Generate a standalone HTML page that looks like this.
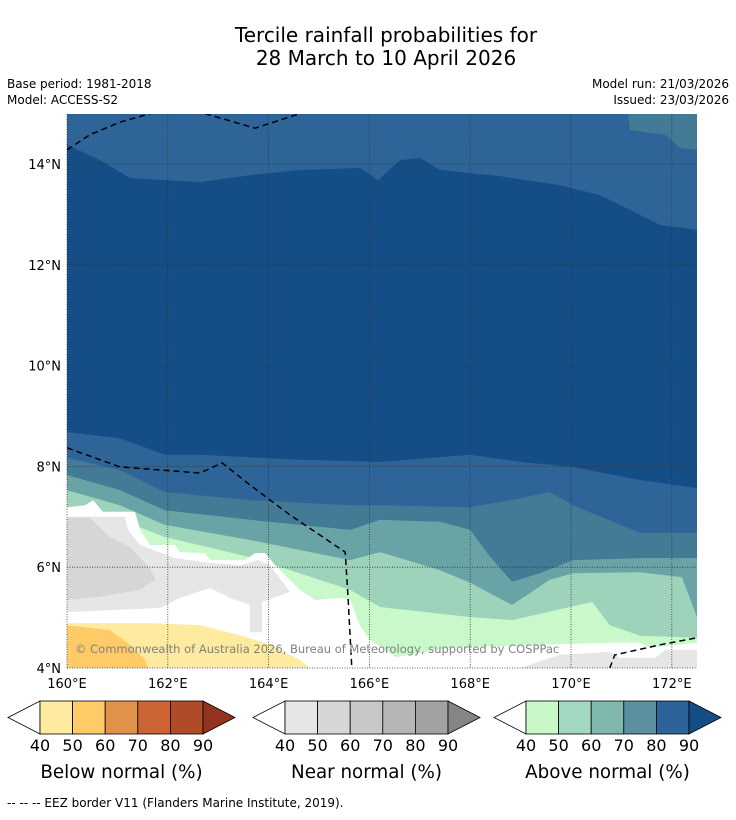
<!DOCTYPE html>
<html><head><meta charset="utf-8"><style>
body{margin:0;background:#fff;width:736px;height:816px;overflow:hidden;font-family:"DejaVu Sans","Liberation Sans",sans-serif;}
</style></head><body>
<svg id="svg" width="736" height="816" xmlns="http://www.w3.org/2000/svg" font-family="DejaVu Sans, Liberation Sans, sans-serif">
<text x="386" y="42" text-anchor="middle" font-size="20">Tercile rainfall probabilities for</text>
<text x="386" y="65" text-anchor="middle" font-size="20">28 March to 10 April 2026</text>
<text x="7" y="88" font-size="12">Base period: 1981-2018</text>
<text x="7" y="104" font-size="12">Model: ACCESS-S2</text>
<text x="729" y="88" font-size="12" text-anchor="end">Model run: 21/03/2026</text>
<text x="729" y="104" font-size="12" text-anchor="end">Issued: 23/03/2026</text>
<defs><clipPath id="mapclip"><rect x="67" y="114" width="630" height="554"/></clipPath></defs>
<g id="map" clip-path="url(#mapclip)"></g>
<g id="axes"></g>
<text x="75" y="653" font-size="11.5" fill="#808080">© Commonwealth of Australia 2026, Bureau of Meteorology, supported by COSPPac</text>
<g id="legends"></g>
<text x="7" y="807" font-size="12">--  --  -- EEZ border V11 (Flanders Marine Institute, 2019).</text>
</svg>
<script>
const lonTicks=[160,162,164,166,168,170,172];
const latTicks=[4,6,8,10,12,14];
const legendTicks=["40","50","60","70","80","90"];
const belowColors=["#feeba0","#fecb66","#e0924a","#cc6433","#b04b28","#943320"];
const nearColors=["#e6e6e6","#d6d6d6","#c8c8c8","#b6b6b6","#a2a2a2","#858585"];
const aboveColors=["#c8f8c8","#a2d8c0","#80b8b0","#5a90a0","#2e6399","#154d87"];
// contour band top boundaries (lon, lat)
const bandDark=[[160,14.38],[160.65,14.08],[161.25,13.72],[162.64,13.64],[163.63,13.78],[164.62,13.88],[165.81,13.92],[166.17,13.68],[166.61,14.08],[167.0,14.12],[167.4,13.88],[168.59,13.76],[169.78,13.58],[170.58,13.38],[171.37,12.99],[171.77,12.79],[172.5,12.69]];
const band80=[[160,8.68],[161.05,8.56],[161.94,8.23],[162.64,8.23],[164.62,8.13],[166.21,8.09],[168.0,8.23],[168.99,8.09],[170.04,7.99],[171.37,7.73],[172.5,7.57]];
const band70=[[160,8.17],[161.05,7.93],[161.94,7.49],[163.63,7.33],[165.62,7.23],[166.21,7.23],[168.0,7.19],[168.79,7.33],[169.58,7.49],[170.04,7.23],[171.37,6.68],[172.5,6.68]];
const band60=[[160,7.83],[161.05,7.53],[161.94,7.13],[163.63,6.94],[165.62,6.74],[166.21,6.94],[167.4,6.9],[168.0,6.74],[168.4,6.2],[168.83,5.71],[169.38,5.88],[170.04,6.14],[171.37,6.18],[172.5,6.18]];
const band50=[[160,7.53],[161.05,7.23],[161.94,6.84],[163.63,6.54],[165.62,6.14],[166.21,6.3],[167.4,5.94],[168.0,5.69],[168.83,5.25],[169.58,5.75],[170.04,5.88],[171.37,5.9],[172.2,5.8],[172.5,5.01]];
const band40=[[160,7.19],[161.05,6.94],[161.94,6.6],[163.63,6.2],[165.62,5.55],[166.21,5.21],[168.0,5.01],[168.83,4.95],[169.98,5.21],[170.42,5.31],[170.77,4.85],[171.37,4.64],[172.5,4.6]];
const topRightPatch=[[171.13,15],[172.5,15],[172.5,14.28],[172.16,14.32],[171.87,14.58],[171.17,14.67]];
const whiteLL=[[160,7.19],[160.36,7.23],[160.52,7.33],[160.71,7.10],[161.35,7.10],[161.45,6.74],[161.65,6.44],[162.14,6.44],[162.24,6.30],[162.74,6.28],[162.84,6.14],[163.53,6.14],[163.73,6.28],[163.93,6.28],[164.13,6.04],[164.62,5.55],[164.92,5.35],[165.42,5.39],[165.62,5.35],[165.81,4.85],[166.01,4.56],[166.31,4.36],[166.61,4.16],[167.4,4.0],[160,4]];
const nearGray40=[[160,7.0],[161.15,7.0],[161.21,6.74],[161.45,6.44],[162.14,6.18],[162.74,6.10],[163.43,6.04],[163.79,6.14],[164.03,6.04],[164.42,5.51],[163.87,5.31],[163.87,4.71],[163.63,4.71],[163.63,5.25],[163.23,5.39],[162.84,5.59],[162.24,5.39],[161.85,5.19],[160,5.11]];
const nearGray50=[[160,6.98],[160.45,6.98],[160.85,6.6],[161.25,6.4],[161.65,5.97],[161.75,5.75],[161.45,5.55],[160.65,5.41],[160,5.35]];
const below40=[[160,4.89],[161.65,4.89],[162.64,4.85],[163.43,4.65],[164.03,4.46],[164.62,4.16],[164.82,4.0],[160,4]];
const below50=[[160,4.85],[160.85,4.75],[161.25,4.46],[161.55,4.16],[161.61,4.0],[160,4]];
const whiteBR=[[166.21,4.16],[167.6,4.40],[169.38,4.46],[170.77,4.50],[171.37,4.50],[171.57,4.40],[172.5,4.50],[172.5,4],[166.21,4]];
const nearGrayBR=[[168.99,4.0],[169.78,4.26],[170.77,4.32],[170.97,4.20],[171.67,4.20],[171.87,4.36],[172.5,4.36],[172.5,4]];
const eezLines=[
 [[160,14.28],[160.45,14.58],[161.05,14.83],[161.65,15.0]],
 [[162.74,15.0],[163.73,14.71],[164.62,15.0]],
 [[160,8.37],[161.05,7.99],[162.64,7.87],[163.08,8.07],[163.63,7.63],[164.42,7.04],[165.52,6.30],[165.58,5.35],[165.65,4.0]],
 [[170.77,4.0],[170.87,4.26],[171.77,4.46],[172.5,4.6]]
];
const NS="http://www.w3.org/2000/svg";
const X=lon=>67+(lon-160)*50.4;
const Y=lat=>668-(lat-4)*50.4;
function pts(a){return a.map(p=>X(p[0]).toFixed(1)+","+Y(p[1]).toFixed(1)).join(" ");}
const map=document.getElementById('map');
function mk(tag,parent){const e=document.createElementNS(NS,tag);parent.appendChild(e);return e;}
const bg=mk('rect',map);bg.setAttribute('x',67);bg.setAttribute('y',114);bg.setAttribute('width',630);bg.setAttribute('height',554);bg.setAttribute('fill','#2f6499');


function band(line,color,name){const p=mk('polygon',map);p.setAttribute('points',pts(line.concat([[172.5,4],[160,4]])));p.setAttribute('fill',color);

}
function poly(arr,color,name){const p=mk('polygon',map);p.setAttribute('points',pts(arr));p.setAttribute('fill',color);

}
poly(topRightPatch,'#437a96','above-normal-60-70-patch');
band(bandDark,'#154d87','above-normal-90-region');
band(band80,'#2f6499','above-normal-80-band');
band(band70,'#437a96','above-normal-70-band');
band(band60,'#6aa3a6','above-normal-60-band');
band(band50,'#9dd3bb','above-normal-50-band');
band(band40,'#c9f9cb','above-normal-40-band');
poly(whiteLL,'#ffffff','no-dominant-region-west');
poly(nearGray40,'#e6e6e6','near-normal-40-region');
poly(nearGray50,'#d6d6d6','near-normal-50-region');
poly(below40,'#feeba0','below-normal-40-region');
poly(below50,'#fecb66','below-normal-50-region');
poly(whiteBR,'#ffffff','no-dominant-region-east');
poly(nearGrayBR,'#e6e6e6','near-normal-40-region-east');
const ax=document.getElementById('axes');
lonTicks.forEach(l=>{const ln=mk('line',ax);ln.setAttribute('x1',X(l));ln.setAttribute('x2',X(l));ln.setAttribute('y1',114);ln.setAttribute('y2',668);ln.setAttribute('stroke','#333');ln.setAttribute('stroke-width','0.8');ln.setAttribute('stroke-dasharray','1,1.5');


const t=mk('text',ax);t.setAttribute('x',X(l));t.setAttribute('y',688);t.setAttribute('text-anchor','middle');t.setAttribute('font-size','13');t.textContent=l+'°E';

});
latTicks.forEach(l=>{const ln=mk('line',ax);ln.setAttribute('x1',67);ln.setAttribute('x2',697);ln.setAttribute('y1',Y(l));ln.setAttribute('y2',Y(l));ln.setAttribute('stroke','#333');ln.setAttribute('stroke-width','0.8');ln.setAttribute('stroke-dasharray','1,1.5');


const t=mk('text',ax);t.setAttribute('x',61);t.setAttribute('y',Y(l)+5);t.setAttribute('text-anchor','end');t.setAttribute('font-size','13');t.textContent=l+'°N';

});
eezLines.forEach(line=>{const pl=mk('polyline',ax);pl.setAttribute('points',pts(line));pl.setAttribute('fill','none');pl.setAttribute('stroke','#000');pl.setAttribute('stroke-width','1.5');pl.setAttribute('stroke-dasharray','6,4');pl.setAttribute('clip-path','url(#mapclip)');

});
const lg=document.getElementById('legends');
function legend(x0,colors,title,name){
 const g=mk('g',lg);
 
 
 const w=32.6,top=701,bot=734,mid=717.5;
 const tl=mk('polygon',g);tl.setAttribute('points',`${x0},${mid} ${x0+32},${top} ${x0+32},${bot}`);tl.setAttribute('fill','#fff');tl.setAttribute('stroke','#000');tl.setAttribute('stroke-width','0.8');
 
 
 for(let i=0;i<5;i++){const r=mk('rect',g);r.setAttribute('x',x0+32+i*w);r.setAttribute('y',top);r.setAttribute('width',w);r.setAttribute('height',bot-top);r.setAttribute('fill',colors[i]);r.setAttribute('stroke','#000');r.setAttribute('stroke-width','0.8');
 
 }
 const xe=x0+32+5*w;
 const tr=mk('polygon',g);tr.setAttribute('points',`${xe},${top} ${xe+32},${mid} ${xe},${bot}`);tr.setAttribute('fill',colors[5]);tr.setAttribute('stroke','#000');tr.setAttribute('stroke-width','0.8');
 
 
 legendTicks.forEach((s,i)=>{const t=mk('text',g);t.setAttribute('x',x0+32+i*w);t.setAttribute('y',751);t.setAttribute('text-anchor','middle');t.setAttribute('font-size','16');t.textContent=s;
 
 });
 const tt=mk('text',g);tt.setAttribute('x',x0+32+2.5*w);tt.setAttribute('y',778);tt.setAttribute('text-anchor','middle');tt.setAttribute('font-size','18.3');tt.textContent=title;
 
 
}
legend(8,belowColors,'Below normal (%)','below-normal-legend');
legend(253,nearColors,'Near normal (%)','near-normal-legend');
legend(494,aboveColors,'Above normal (%)','above-normal-legend');
</script>
</body></html>
